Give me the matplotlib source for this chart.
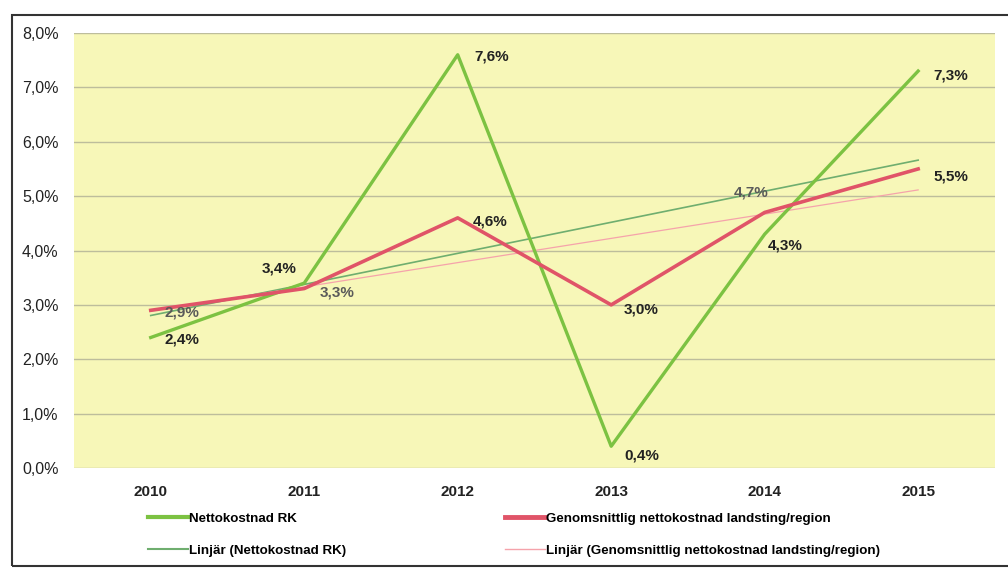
import matplotlib.pyplot as plt
import numpy as np
from matplotlib.lines import Line2D
from matplotlib.patches import Rectangle

years = ["2010", "2011", "2012", "2013", "2014", "2015"]
rk = [2.4, 3.4, 7.6, 0.4, 4.3, 7.3]
avg = [2.9, 3.3, 4.6, 3.0, 4.7, 5.5]

# label offsets in pixels (dx, dy, ha) for each point
rk_offsets = [(14, -2, "left"), (-8, 15, "right"), (17, -2, "left"),
              (13, -9, "left"), (3, -11, "left"), (15, -4, "left")]
avg_offsets = [(14, -2, "left"), (15, -4, "left"), (15, -4, "left"),
               (13, -5, "left"), (-14, 20, "center"), (15, -8, "left")]
avg_colors = ["#5a5a5a", "#5a5a5a", "#222222", "#222222", "#5a5a5a", "#222222"]

green = "#7cc242"
red = "#e05468"
green_trend = "#6fae6f"
red_trend = "#f5a3ab"

plt.rcParams["font.family"] = ["Liberation Sans", "DejaVu Sans"]

fig = plt.figure(figsize=(10.08, 5.69), dpi=100)
ax = fig.add_axes([0.0734, 0.1775, 0.9136, 0.7645])

x = np.arange(len(years))
ax.set_facecolor("#f7f7b8")

# linear trend lines
p_rk = np.polyfit(x, rk, 1)
p_avg = np.polyfit(x, avg, 1)
ax.plot(x, np.polyval(p_rk, x), color=green_trend, lw=1.2, zorder=3)
ax.plot(x, np.polyval(p_avg, x), color=red_trend, lw=0.9, zorder=3)

ax.plot(x, rk, color=green, lw=2.4, zorder=4)
ax.plot(x, avg, color=red, lw=2.6, zorder=5)

for xi, v, (dx, dy, ha) in zip(x, rk, rk_offsets):
    ax.annotate(f"{v:.1f}%".replace(".", ","), (xi, v), xytext=(dx, dy),
                textcoords="offset pixels", ha=ha, va="center",
                fontsize=11, fontweight="bold", color="#222222", zorder=6)
for xi, v, (dx, dy, ha), c in zip(x, avg, avg_offsets, avg_colors):
    ax.annotate(f"{v:.1f}%".replace(".", ","), (xi, v), xytext=(dx, dy),
                textcoords="offset pixels", ha=ha, va="center",
                fontsize=11, fontweight="bold", color=c, zorder=6)

ax.set_xlim(-0.5, 5.5)
ax.set_ylim(0, 8)
ax.set_xticks(x)
ax.set_xticklabels(years, fontweight="bold", fontsize=11, color="#222222")
ax.set_yticks(np.arange(0, 9, 1))
ax.set_yticklabels([f"{v:.1f}%".replace(".", ",") for v in range(9)],
                   fontsize=11.5, color="#222222")
ax.tick_params(length=0, axis="x", pad=12)
ax.tick_params(length=0, axis="y", pad=11)
ax.grid(axis="y", color="#bdbd9c", lw=1)
ax.set_axisbelow(True)
for s in ax.spines.values():
    s.set_visible(False)

leg_kw = dict(frameon=False, loc="upper left", handlelength=3.0,
              handletextpad=0.1, labelspacing=1.45,
              prop={"family": ["Liberation Sans", "DejaVu Sans"], "weight": "bold", "size": 9.6})
fig.legend([Line2D([], [], color=green, lw=3), Line2D([], [], color=green_trend, lw=1.5)],
           ["Nettokostnad RK", "Linjär (Nettokostnad RK)"],
           bbox_to_anchor=(0.135, 0.12), **leg_kw)
fig.legend([Line2D([], [], color=red, lw=3.5), Line2D([], [], color=red_trend, lw=1)],
           ["Genomsnittlig nettokostnad landsting/region",
            "Linjär (Genomsnittlig nettokostnad landsting/region)"],
           bbox_to_anchor=(0.489, 0.12), **leg_kw)

fig.add_artist(Rectangle((0.012, 0.005), 1.0, 0.968, transform=fig.transFigure,
                         fill=False, edgecolor="#333333", lw=1.5))

fig.savefig("out.png", dpi=100)
